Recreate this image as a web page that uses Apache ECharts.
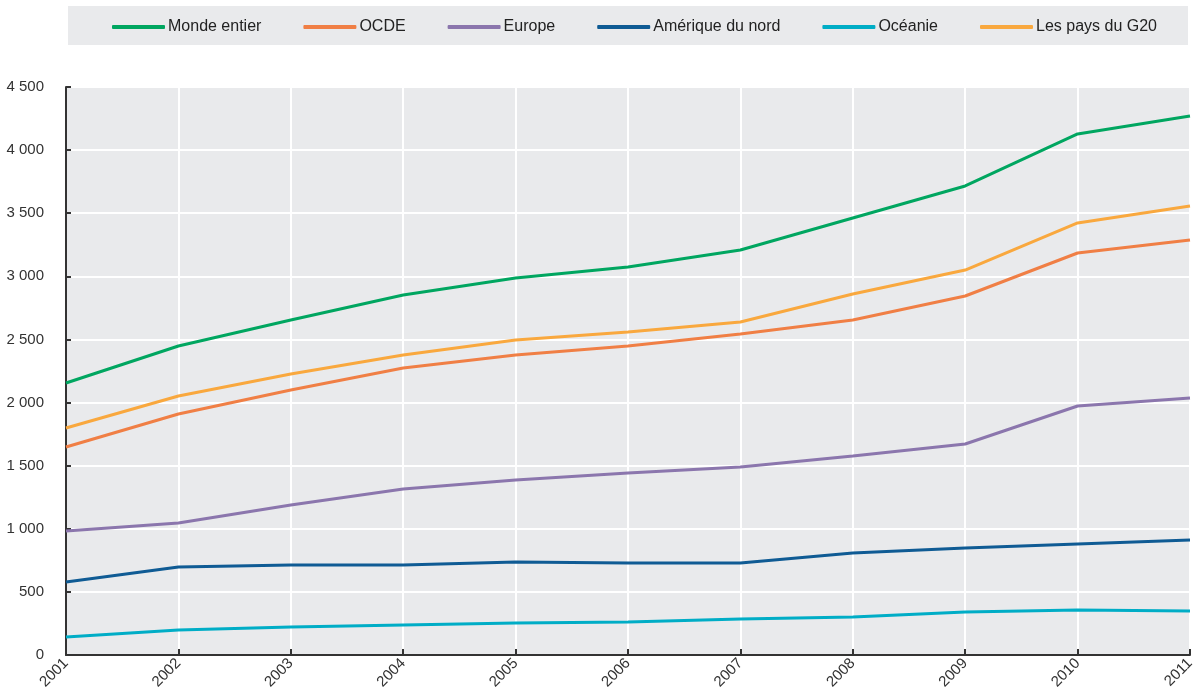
<!DOCTYPE html>
<html>
<head>
<meta charset="utf-8">
<script src="https://cdn.jsdelivr.net/npm/echarts@6/dist/echarts.min.js"></script>
<style>
  html, body { margin: 0; padding: 0; background: #fff; }
  #chart { width: 1198px; height: 697px; }
</style>
</head>
<body>
<div id="chart"></div>
<script>
var years = ['2001', '2002', '2003', '2004', '2005', '2006', '2007', '2008', '2009', '2010', '2011'];

var mondeEntier = [2155, 2448, 2654, 2852, 2987, 3074, 3209, 3462, 3716, 4128, 4270];
var ocde = [1648, 1909, 2100, 2274, 2377, 2448, 2543, 2654, 2844, 3185, 3288];
var europe = [982, 1046, 1188, 1315, 1386, 1442, 1490, 1577, 1672, 1973, 2036];
var ameriqueNord = [578, 697, 713, 713, 737, 729, 729, 808, 848, 880, 911];
var oceanie = [143, 198, 222, 238, 254, 261, 285, 301, 341, 357, 349];
var g20 = [1798, 2052, 2226, 2377, 2496, 2559, 2638, 2860, 3050, 3423, 3557];

var font = "'Liberation Sans', Arial, sans-serif";

function line(name, data, color) {
    return {
        name: name,
        type: 'line',
        data: data,
        symbol: 'none',
        lineStyle: { width: 3, color: color },
        itemStyle: { color: color }
    };
}

var chart = echarts.init(document.getElementById('chart'));
chart.setOption({
    animation: false,
    textStyle: { fontFamily: font },
    graphic: [{
        type: 'rect',
        left: 68, top: 6,
        shape: { width: 1120, height: 39 },
        style: { fill: '#e9eaec' },
        z: -1
    }],
    legend: {
        left: 112, top: 19,
        padding: 0,
        itemWidth: 53, itemHeight: 4,
        itemGap: 42,
        icon: 'roundRect',
        textStyle: { fontFamily: font, fontSize: 16, color: '#222', padding: [0, 0, 0, -2] },
        data: ['Monde entier', 'OCDE', 'Europe', 'Amérique du nord', 'Océanie', 'Les pays du G20']
    },
    grid: {
        left: 66, right: 8, top: 87, bottom: 42,
        show: true, backgroundColor: '#e9eaec', borderWidth: 0
    },
    xAxis: {
        type: 'category',
        data: years,
        boundaryGap: false,
        axisLine: { lineStyle: { color: '#333', width: 2 } },
        axisTick: { inside: true, length: 6, lineStyle: { color: '#333', width: 2 } },
        axisLabel: { rotate: 45, fontSize: 15, color: '#333', margin: 6, fontFamily: font },
        splitLine: { show: true, lineStyle: { color: '#fff', width: 2 } }
    },
    yAxis: {
        type: 'value',
        min: 0, max: 4500, interval: 500,
        axisLine: { show: true, lineStyle: { color: '#333', width: 2 } },
        axisTick: { show: true, inside: true, length: 5, lineStyle: { color: '#333', width: 2 } },
        axisLabel: {
            fontSize: 15, color: '#333', margin: 22, fontFamily: font,
            formatter: function (v) { return String(v).replace(/\B(?=(\d{3})+(?!\d))/g, ' '); }
        },
        splitLine: { lineStyle: { color: '#fff', width: 2 } }
    },
    series: [
        line('Monde entier', mondeEntier, '#00a660'),
        line('OCDE', ocde, '#f07f45'),
        line('Europe', europe, '#8b76ad'),
        line('Amérique du nord', ameriqueNord, '#0f5b94'),
        line('Océanie', oceanie, '#00adc6'),
        line('Les pays du G20', g20, '#f9a83e')
    ]
});
</script>
</body>
</html>
